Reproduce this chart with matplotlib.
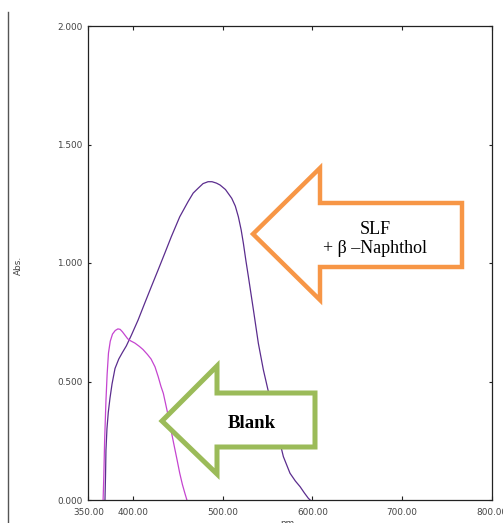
import matplotlib
matplotlib.use("Agg")
import matplotlib.pyplot as plt
from matplotlib.patches import Polygon
from matplotlib.lines import Line2D

# ---- data ----
slf_nm = [368.6, 369.2, 369.7, 370.8, 372.3, 374.2, 376.5, 379.8, 384, 388, 392.4, 398,
          405.5, 412.9, 420.3, 427.8, 435.3, 442.6, 452, 461.3, 467, 472.4, 478, 483.6,
          488, 493, 497, 503, 510, 514, 517.4, 520.5, 523, 525.8, 528.6, 534.2, 539.7,
          545.3, 550.9, 556, 562, 567.6, 575, 581, 586.3, 591, 595.5, 597.5]
slf_abs = [0.0, 0.10, 0.21, 0.30, 0.37, 0.43, 0.49, 0.555, 0.595, 0.622, 0.65, 0.695,
           0.759, 0.83, 0.90, 0.97, 1.041, 1.111, 1.195, 1.259, 1.295, 1.315, 1.335, 1.343,
           1.343, 1.337, 1.329, 1.31, 1.273, 1.24, 1.195, 1.14, 1.083, 1.01, 0.942, 0.802,
           0.661, 0.549, 0.457, 0.37, 0.27, 0.183, 0.113, 0.08, 0.056, 0.03, 0.007, 0.0]

blank_nm = [366.5, 367.3, 368.2, 369.7, 371, 372.5, 374.5, 377, 380, 383, 385.5, 388,
            391, 394, 397, 402, 407, 411, 416, 420, 424.4, 428, 431, 433.7, 436, 440,
            443, 446, 449, 452, 455, 458, 460]
blank_abs = [0.0, 0.10, 0.25, 0.42, 0.53, 0.62, 0.67, 0.70, 0.715, 0.722, 0.72, 0.71,
             0.695, 0.68, 0.672, 0.662, 0.648, 0.635, 0.614, 0.595, 0.562, 0.52, 0.48,
             0.45, 0.41, 0.34, 0.281, 0.225, 0.17, 0.113, 0.065, 0.025, 0.0]

xticks = [350, 400, 500, 600, 700, 800]
xticklabels = ["350.00", "400.00", "500.00", "600.00", "700.00", "800.00"]
yticks = [0.0, 0.5, 1.0, 1.5, 2.0]
yticklabels = ["0.000", "0.500", "1.000", "1.500", "2.000"]

W, H = 503, 523
fig = plt.figure(figsize=(W / 100, H / 100), dpi=100)
fig.patch.set_facecolor("white")

def fx(px):
    return px / W

def fy(py):
    return 1 - py / H

ax = fig.add_axes([fx(88.3), fy(500), fx(491.7) - fx(88.3), fy(26) - fy(500)])
ax.set_xlim(350, 800)
ax.set_ylim(0, 2.0)

ax.plot(slf_nm, slf_abs, color="#5b2d8e", lw=0.9, zorder=2, solid_joinstyle="round")
ax.plot(blank_nm, blank_abs, color="#c545d0", lw=0.9, zorder=2, solid_joinstyle="round")

for s in ax.spines.values():
    s.set_color("#222222")
    s.set_linewidth(0.9)

ax.set_xticks(xticks)
ax.set_xticklabels(xticklabels)
ax.set_yticks(yticks)
ax.set_yticklabels(yticklabels)
ax.tick_params(axis="x", direction="in", top=True, bottom=True, length=3.2,
               width=0.8, color="#222222", pad=6, labelsize=6.4, labelcolor="#444444")
ax.tick_params(axis="y", direction="in", left=True, right=True, length=2.5,
               width=0.8, color="#222222", pad=4, labelsize=6.4, labelcolor="#444444")

# axis labels
fig.text(fx(18), fy(265), "Abs.", rotation=90, ha="center", va="center",
         fontsize=6.4, color="#444444")
fig.text(fx(287), fy(519), "nm", ha="center", va="top", fontsize=6.4, color="#444444")

# frame line on the left
fig.add_artist(Line2D([fx(8.3), fx(8.3)], [fy(12), fy(523)], transform=fig.transFigure,
                      color="#555555", lw=1.0))

# orange arrow (SLF + beta-Naphthol)
orange_pts = [(253, 234), (320, 168), (320, 203), (462, 203), (462, 267),
              (320, 267), (320, 300)]
fig.add_artist(Polygon([(fx(x), fy(y)) for x, y in orange_pts], closed=True,
                       transform=fig.transFigure, facecolor="white",
                       edgecolor="#f79646", lw=3.2, joinstyle="miter", zorder=5))
fig.text(fx(375), fy(234), "SLF", ha="center", va="baseline", fontsize=13,
         family="Liberation Serif", zorder=6)
fig.text(fx(375), fy(253), "+ β –Naphthol", ha="center", va="baseline", fontsize=13,
         family="Liberation Serif", zorder=6)

# green arrow (Blank)
green_pts = [(162, 421), (217, 366), (217, 393), (315, 393), (315, 447),
             (217, 447), (217, 474)]
fig.add_artist(Polygon([(fx(x), fy(y)) for x, y in green_pts], closed=True,
                       transform=fig.transFigure, facecolor="white",
                       edgecolor="#9bbb59", lw=3.6, joinstyle="miter", zorder=5))
fig.text(fx(252), fy(428), "Blank", ha="center", va="baseline", fontsize=13.5,
         fontweight="bold", family="Liberation Serif", zorder=6)

fig.savefig("out.png", dpi=100, facecolor="white")
